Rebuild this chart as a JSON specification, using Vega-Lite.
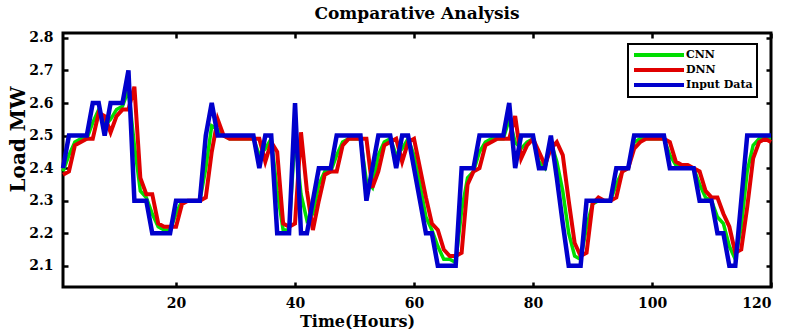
{
 "$schema": "https://vega.github.io/schema/vega-lite/v6.json",
 "width": 708, "height": 254,
 "autosize": {"type": "none"},
 "padding": {"left": 63, "top": 33, "right": 14, "bottom": 42},
 "background": "white",
 "title": {"text": "Comparative Analysis", "font": "DejaVu Serif", "fontSize": 17, "fontWeight": "bold", "color": "black", "offset": 8, "anchor": "middle"},
 "config": {"view": {"stroke": "black", "strokeWidth": 3}},
 "data": {"values": [
{"t":1,"CNN":2.39,"DNN":2.38,"Input Data":2.4},
{"t":2,"CNN":2.44,"DNN":2.39,"Input Data":2.5},
{"t":3,"CNN":2.48,"DNN":2.47,"Input Data":2.5},
{"t":4,"CNN":2.49,"DNN":2.48,"Input Data":2.5},
{"t":5,"CNN":2.49,"DNN":2.49,"Input Data":2.5},
{"t":6,"CNN":2.54,"DNN":2.49,"Input Data":2.6},
{"t":7,"CNN":2.58,"DNN":2.57,"Input Data":2.6},
{"t":8,"CNN":2.53,"DNN":2.56,"Input Data":2.5},
{"t":9,"CNN":2.55,"DNN":2.51,"Input Data":2.6},
{"t":10,"CNN":2.58,"DNN":2.56,"Input Data":2.6},
{"t":11,"CNN":2.59,"DNN":2.58,"Input Data":2.6},
{"t":12,"CNN":2.64,"DNN":2.58,"Input Data":2.7},
{"t":13,"CNN":2.47,"DNN":2.65,"Input Data":2.3},
{"t":14,"CNN":2.33,"DNN":2.37,"Input Data":2.3},
{"t":15,"CNN":2.31,"DNN":2.32,"Input Data":2.3},
{"t":16,"CNN":2.26,"DNN":2.32,"Input Data":2.2},
{"t":17,"CNN":2.22,"DNN":2.23,"Input Data":2.2},
{"t":18,"CNN":2.21,"DNN":2.22,"Input Data":2.2},
{"t":19,"CNN":2.21,"DNN":2.22,"Input Data":2.2},
{"t":20,"CNN":2.26,"DNN":2.22,"Input Data":2.3},
{"t":21,"CNN":2.3,"DNN":2.29,"Input Data":2.3},
{"t":22,"CNN":2.3,"DNN":2.3,"Input Data":2.3},
{"t":23,"CNN":2.3,"DNN":2.3,"Input Data":2.3},
{"t":24,"CNN":2.3,"DNN":2.3,"Input Data":2.3},
{"t":25,"CNN":2.4,"DNN":2.31,"Input Data":2.5},
{"t":26,"CNN":2.53,"DNN":2.45,"Input Data":2.6},
{"t":27,"CNN":2.52,"DNN":2.55,"Input Data":2.5},
{"t":28,"CNN":2.5,"DNN":2.5,"Input Data":2.5},
{"t":29,"CNN":2.49,"DNN":2.49,"Input Data":2.5},
{"t":30,"CNN":2.49,"DNN":2.49,"Input Data":2.5},
{"t":31,"CNN":2.49,"DNN":2.49,"Input Data":2.5},
{"t":32,"CNN":2.49,"DNN":2.49,"Input Data":2.5},
{"t":33,"CNN":2.49,"DNN":2.49,"Input Data":2.5},
{"t":34,"CNN":2.44,"DNN":2.49,"Input Data":2.4},
{"t":35,"CNN":2.46,"DNN":2.42,"Input Data":2.5},
{"t":36,"CNN":2.49,"DNN":2.48,"Input Data":2.5},
{"t":37,"CNN":2.33,"DNN":2.45,"Input Data":2.2},
{"t":38,"CNN":2.21,"DNN":2.23,"Input Data":2.2},
{"t":39,"CNN":2.21,"DNN":2.22,"Input Data":2.2},
{"t":40,"CNN":2.5,"DNN":2.23,"Input Data":2.6},
{"t":41,"CNN":2.32,"DNN":2.51,"Input Data":2.2},
{"t":42,"CNN":2.24,"DNN":2.33,"Input Data":2.2},
{"t":43,"CNN":2.26,"DNN":2.21,"Input Data":2.3},
{"t":44,"CNN":2.35,"DNN":2.3,"Input Data":2.4},
{"t":45,"CNN":2.39,"DNN":2.38,"Input Data":2.4},
{"t":46,"CNN":2.39,"DNN":2.39,"Input Data":2.4},
{"t":47,"CNN":2.44,"DNN":2.39,"Input Data":2.5},
{"t":48,"CNN":2.48,"DNN":2.47,"Input Data":2.5},
{"t":49,"CNN":2.49,"DNN":2.49,"Input Data":2.5},
{"t":50,"CNN":2.49,"DNN":2.49,"Input Data":2.5},
{"t":51,"CNN":2.49,"DNN":2.49,"Input Data":2.5},
{"t":52,"CNN":2.36,"DNN":2.49,"Input Data":2.3},
{"t":53,"CNN":2.34,"DNN":2.34,"Input Data":2.4},
{"t":54,"CNN":2.44,"DNN":2.39,"Input Data":2.5},
{"t":55,"CNN":2.48,"DNN":2.47,"Input Data":2.5},
{"t":56,"CNN":2.49,"DNN":2.48,"Input Data":2.5},
{"t":57,"CNN":2.44,"DNN":2.49,"Input Data":2.4},
{"t":58,"CNN":2.46,"DNN":2.42,"Input Data":2.5},
{"t":59,"CNN":2.49,"DNN":2.48,"Input Data":2.5},
{"t":60,"CNN":2.44,"DNN":2.49,"Input Data":2.4},
{"t":61,"CNN":2.35,"DNN":2.4,"Input Data":2.3},
{"t":62,"CNN":2.25,"DNN":2.31,"Input Data":2.2},
{"t":63,"CNN":2.21,"DNN":2.23,"Input Data":2.2},
{"t":64,"CNN":2.16,"DNN":2.21,"Input Data":2.1},
{"t":65,"CNN":2.12,"DNN":2.15,"Input Data":2.1},
{"t":66,"CNN":2.12,"DNN":2.13,"Input Data":2.1},
{"t":67,"CNN":2.11,"DNN":2.13,"Input Data":2.1},
{"t":68,"CNN":2.27,"DNN":2.14,"Input Data":2.4},
{"t":69,"CNN":2.37,"DNN":2.35,"Input Data":2.4},
{"t":70,"CNN":2.39,"DNN":2.39,"Input Data":2.4},
{"t":71,"CNN":2.45,"DNN":2.4,"Input Data":2.5},
{"t":72,"CNN":2.48,"DNN":2.47,"Input Data":2.5},
{"t":73,"CNN":2.49,"DNN":2.48,"Input Data":2.5},
{"t":74,"CNN":2.49,"DNN":2.49,"Input Data":2.5},
{"t":75,"CNN":2.49,"DNN":2.49,"Input Data":2.5},
{"t":76,"CNN":2.55,"DNN":2.49,"Input Data":2.6},
{"t":77,"CNN":2.48,"DNN":2.56,"Input Data":2.4},
{"t":78,"CNN":2.46,"DNN":2.43,"Input Data":2.5},
{"t":79,"CNN":2.48,"DNN":2.47,"Input Data":2.5},
{"t":80,"CNN":2.49,"DNN":2.49,"Input Data":2.5},
{"t":81,"CNN":2.42,"DNN":2.45,"Input Data":2.4},
{"t":82,"CNN":2.4,"DNN":2.41,"Input Data":2.4},
{"t":83,"CNN":2.48,"DNN":2.46,"Input Data":2.5},
{"t":84,"CNN":2.42,"DNN":2.48,"Input Data":2.37},
{"t":85,"CNN":2.33,"DNN":2.44,"Input Data":2.23},
{"t":86,"CNN":2.2,"DNN":2.3,"Input Data":2.1},
{"t":87,"CNN":2.13,"DNN":2.17,"Input Data":2.1},
{"t":88,"CNN":2.12,"DNN":2.13,"Input Data":2.1},
{"t":89,"CNN":2.22,"DNN":2.14,"Input Data":2.3},
{"t":90,"CNN":2.29,"DNN":2.29,"Input Data":2.3},
{"t":91,"CNN":2.3,"DNN":2.31,"Input Data":2.3},
{"t":92,"CNN":2.3,"DNN":2.3,"Input Data":2.3},
{"t":93,"CNN":2.3,"DNN":2.3,"Input Data":2.3},
{"t":94,"CNN":2.35,"DNN":2.31,"Input Data":2.4},
{"t":95,"CNN":2.39,"DNN":2.39,"Input Data":2.4},
{"t":96,"CNN":2.4,"DNN":2.4,"Input Data":2.4},
{"t":97,"CNN":2.48,"DNN":2.46,"Input Data":2.5},
{"t":98,"CNN":2.49,"DNN":2.48,"Input Data":2.5},
{"t":99,"CNN":2.49,"DNN":2.49,"Input Data":2.5},
{"t":100,"CNN":2.49,"DNN":2.49,"Input Data":2.5},
{"t":101,"CNN":2.49,"DNN":2.49,"Input Data":2.5},
{"t":102,"CNN":2.49,"DNN":2.49,"Input Data":2.5},
{"t":103,"CNN":2.44,"DNN":2.48,"Input Data":2.4},
{"t":104,"CNN":2.41,"DNN":2.42,"Input Data":2.4},
{"t":105,"CNN":2.4,"DNN":2.41,"Input Data":2.4},
{"t":106,"CNN":2.4,"DNN":2.41,"Input Data":2.4},
{"t":107,"CNN":2.4,"DNN":2.4,"Input Data":2.4},
{"t":108,"CNN":2.35,"DNN":2.39,"Input Data":2.3},
{"t":109,"CNN":2.31,"DNN":2.33,"Input Data":2.3},
{"t":110,"CNN":2.3,"DNN":2.31,"Input Data":2.3},
{"t":111,"CNN":2.25,"DNN":2.31,"Input Data":2.2},
{"t":112,"CNN":2.23,"DNN":2.26,"Input Data":2.2},
{"t":113,"CNN":2.16,"DNN":2.22,"Input Data":2.1},
{"t":114,"CNN":2.12,"DNN":2.14,"Input Data":2.1},
{"t":115,"CNN":2.22,"DNN":2.15,"Input Data":2.3},
{"t":116,"CNN":2.39,"DNN":2.28,"Input Data":2.5},
{"t":117,"CNN":2.47,"DNN":2.43,"Input Data":2.5},
{"t":118,"CNN":2.49,"DNN":2.48,"Input Data":2.5},
{"t":119,"CNN":2.49,"DNN":2.49,"Input Data":2.5},
{"t":120,"CNN":2.49,"DNN":2.48,"Input Data":2.5}
 ]},
 "transform": [{"fold": ["CNN", "DNN", "Input Data"], "as": ["series", "load"]}],
 "encoding": {
  "color": {"field": "series", "type": "nominal",
   "scale": {"domain": ["CNN", "DNN", "Input Data"], "range": ["#00dd00", "#e00000", "#0000cc"]},
   "legend": {"orient": "none", "legendX": 565, "legendY": 11, "title": null,
     "symbolType": "M-1,0H9", "symbolSize": 100, "symbolStrokeWidth": 4, "symbolFillColor": "transparent",
     "labelOffset": 40, "labelFont": "DejaVu Serif", "labelFontSize": 11, "labelFontWeight": "bold", "labelColor": "black",
     "fillColor": "white", "strokeColor": "black", "padding": 4, "rowPadding": -5,
     "encode": {"legend": {"update": {"strokeWidth": {"value": 2}}}}}}
 },
 "layer": [
  {"transform": [{"filter": "datum.series === 'CNN'"}],
   "mark": {"type": "line", "strokeWidth": 3.5},
   "encoding": {
    "x": {"field": "t", "type": "quantitative", "scale": {"domain": [1, 120], "nice": false, "zero": false},
     "axis": {"orient": "bottom", "values": [20, 40, 60, 80, 100, 120], "title": "Time(Hours)", "domain": false, "grid": false,
      "tickSize": -5, "tickWidth": 2.5, "tickColor": "black", "labelPadding": 14,
      "labelFont": "DejaVu Serif", "labelFontSize": 14, "labelFontWeight": "bold", "labelColor": "black",
      "titleFont": "DejaVu Serif", "titleFontSize": 16, "titleFontWeight": "bold", "titleColor": "black",
      "titleX": 294, "titleY": 39, "titleBaseline": "alphabetic", "titleAlign": "center"}},
    "y": {"field": "load", "type": "quantitative", "scale": {"domain": [2.035, 2.815], "nice": false, "zero": false},
     "axis": {"orient": "left", "values": [2.1, 2.2, 2.3, 2.4, 2.5, 2.6, 2.7, 2.8], "format": ".1f", "title": "Load MW", "domain": false, "grid": false,
      "tickSize": -5, "tickWidth": 2.5, "tickColor": "black", "labelPadding": 15,
      "labelFont": "DejaVu Serif", "labelFontSize": 14, "labelFontWeight": "bold", "labelColor": "black",
      "titleFont": "DejaVu Serif", "titleFontSize": 20, "titleFontWeight": "bold", "titleColor": "black",
      "titleX": -39, "titleY": 106, "titleBaseline": "alphabetic", "titleAlign": "center", "titleAngle": -90}}
   }},
  {"transform": [{"filter": "datum.series === 'DNN'"}],
   "mark": {"type": "line", "strokeWidth": 4},
   "encoding": {
    "x": {"field": "t", "type": "quantitative", "scale": {"domain": [1, 120], "nice": false, "zero": false},
     "axis": {"orient": "top", "values": [20, 40, 60, 80, 100, 120], "labels": false, "title": null, "domain": false, "grid": false,
      "tickSize": -5, "tickWidth": 2.5, "tickColor": "black"}},
    "y": {"field": "load", "type": "quantitative", "scale": {"domain": [2.035, 2.815], "nice": false, "zero": false},
     "axis": {"orient": "right", "values": [2.1, 2.2, 2.3, 2.4, 2.5, 2.6, 2.7, 2.8], "labels": false, "title": null, "domain": false, "grid": false,
      "tickSize": -5, "tickWidth": 2.5, "tickColor": "black"}}
   }},
  {"transform": [{"filter": "datum.series === 'Input Data'"}],
   "mark": {"type": "line", "strokeWidth": 4.5},
   "encoding": {
    "x": {"field": "t", "type": "quantitative", "scale": {"domain": [1, 120], "nice": false, "zero": false}, "axis": null},
    "y": {"field": "load", "type": "quantitative", "scale": {"domain": [2.035, 2.815], "nice": false, "zero": false}, "axis": null}
   }}
 ],
 "resolve": {"axis": {"x": "independent", "y": "independent"}}
}
